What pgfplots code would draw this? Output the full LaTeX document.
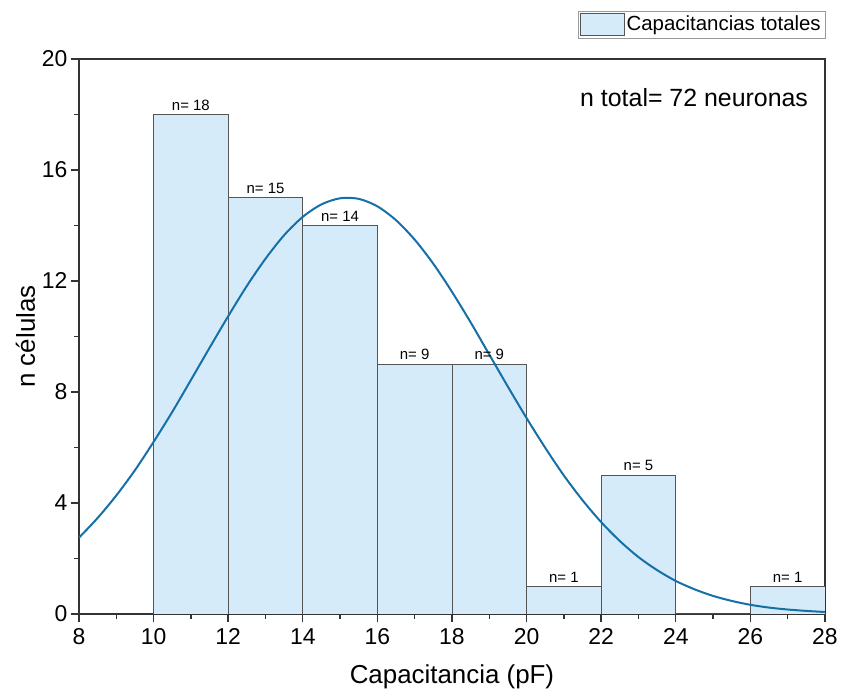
\documentclass[border=0pt]{standalone}
\usepackage{pgfplots}
\pgfplotsset{compat=1.18}
\usepackage{fontspec}
\setmainfont{Liberation Sans}
\definecolor{barfill}{HTML}{D5EBFA}
\definecolor{baredge}{HTML}{555555}
\definecolor{curve}{HTML}{1670A8}
\begin{document}
\begin{tikzpicture}
\begin{axis}[
    scale only axis,
    width=746bp, height=555bp,
    xmin=8, xmax=28, ymin=0, ymax=20,
    xtick={8,10,...,28}, ytick={0,4,...,20},
    minor xtick={9,11,...,27}, minor ytick={2,6,...,18},
    tick pos=left, tick align=outside,
    major tick length=8bp, minor tick length=5bp,
    axis line style={line width=1.6bp, draw=black!80},
    every tick/.style={line width=1.4bp, draw=black!80},
    ticklabel style={font=\fontsize{23}{27}\selectfont},
    xticklabel style={yshift=-3bp},
    /pgf/number format/assume math mode=true,
    xlabel={Capacitancia (pF)}, ylabel={n células},
    label style={font=\fontsize{26}{30}\selectfont},
    xlabel style={yshift=-13bp},
    ylabel style={yshift=0bp},
    legend style={at={(1,1.038)}, anchor=south east, draw=black!40,
        font=\fontsize{20.5}{24}\selectfont, inner sep=2bp},
    legend cell align=left,
    legend image code/.code={\draw[#1, fill=barfill] (0bp,-11bp) rectangle (44bp,11bp);},
]
\addplot[ybar interval, fill=barfill, draw=baredge, line width=0.8bp]
  coordinates {(10,18) (12,15) (14,14) (16,9) (18,9) (20,1) (22,5) (24,0) (26,1) (28,1)};
\addlegendentry{Capacitancias totales}

\addplot[draw=none, forget plot, nodes near coords={n= \pgfmathprintnumber{\pgfplotspointmeta}},
  nodes near coords align=above, point meta=explicit,
  every node near coord/.style={font=\fontsize{15}{17}\selectfont, inner sep=4bp}]
  coordinates {(11,18) [18] (13,15) [15] (15,14) [14] (17,9) [9] (19,9) [9] (21,1) [1] (23,5) [5] (27,1) [1]};

\addplot[curve, line width=2bp, smooth, forget plot] coordinates {
 (8,2.75) (8.5,3.46) (9,4.27) (9.5,5.18) (10,6.20) (10.5,7.28) (11,8.43) (11.5,9.59)
 (12,10.73) (12.5,11.82) (13,12.80) (13.5,13.65) (14,14.31) (14.5,14.76) (15,14.98)
 (15.5,14.96) (16,14.69) (16.5,14.19) (17,13.49) (17.5,12.62) (18,11.61) (18.5,10.51)
 (19,9.35) (19.5,8.19) (20,7.06) (20.5,5.99) (21,4.99) (21.5,4.10) (22,3.31) (22.5,2.63)
 (23,2.05) (23.5,1.58) (24,1.19) (24.5,0.89) (25,0.65) (25.5,0.47) (26,0.33) (26.5,0.23)
 (27,0.16) (27.5,0.11) (28,0.07)};

\node[anchor=east, font=\fontsize{25}{29}\selectfont] at (rel axis cs:0.982,0.93) {n total= 72 neuronas};
\end{axis}
\path (current axis.south west) ++(-79bp,-78bp) coordinate (bbA);
\path (current axis.north east) ++(16bp,59bp) coordinate (bbB);
\useasboundingbox (bbA) rectangle (bbB);
\end{tikzpicture}
\end{document}
